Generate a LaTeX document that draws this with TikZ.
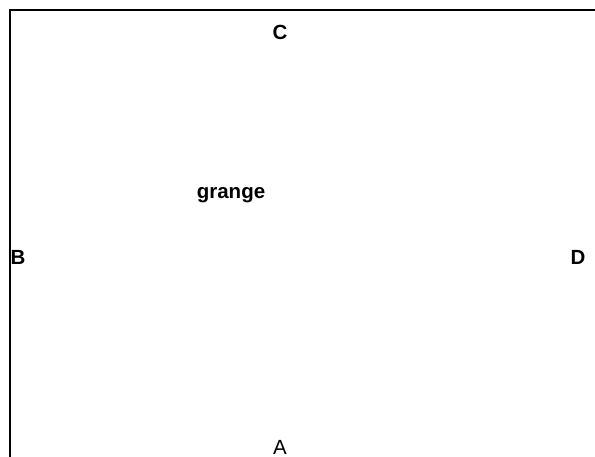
\documentclass[tikz,border=0pt]{standalone}
\usepackage{fontspec}
\setmainfont{Liberation Sans}
\begin{document}
\begin{tikzpicture}[x=1pt,y=-1pt,
  lbl/.style={font=\fontsize{20.5}{24}\selectfont\bfseries, inner sep=0pt},
  plain/.style={font=\fontsize{20.5}{24}\selectfont, inner sep=0pt},
  frame/.style={line width=2.2pt, line cap=rect}]
\useasboundingbox[fill=white] (0,0) rectangle (595,457);
\draw[frame] (10,458) -- (10,10) -- (596,10);
\node[lbl] (C) at (280,32) {C};
\node[lbl] (grange) at (231,195.5) {grange};
\node[lbl, anchor=west] (B) at (10.5,257) {B};
\node[lbl] (D) at (578,257) {D};
\node[plain] (A) at (280,447) {A};
\end{tikzpicture}
\end{document}
